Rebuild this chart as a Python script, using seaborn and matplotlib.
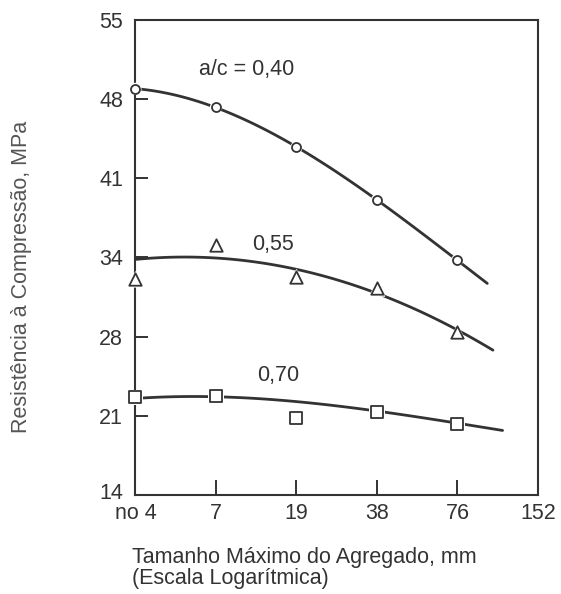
import numpy as np
import pandas as pd
import matplotlib
matplotlib.use("Agg")
import matplotlib.pyplot as plt
import matplotlib.transforms as mtransforms
import seaborn as sns

# ==========================================
# DATA
# ==========================================
size_labels = ["no 4", "7", "19", "38", "76", "152"]
size_pos = [0, 1, 2, 3, 4]

ytick_vals = [13.8, 20.7, 27.6, 34.5, 41.4, 48.3, 55.2]
ytick_labels = ["14", "21", "28", "34", "41", "48", "55"]

# measured points
res_040 = [49.2, 47.6, 44.1, 39.5, 34.3]
res_055 = [32.6, 35.6, 32.8, 31.8, 28.0]
res_070 = [22.3, 22.4, 20.5, 21.0, 20.0]

# points
curve_x_040 = [0, 1, 2, 3, 4, 4.37]
curve_y_040 = [49.2, 47.6, 44.1, 39.5, 34.3, 32.2]
curve_x_055 = [0, 0.63, 2, 3, 4, 4.44]
curve_y_055 = [34.3, 34.6, 33.4, 31.4, 28.2, 26.4]
curve_x_070 = [0, 1, 2, 3, 4, 4.56]
curve_y_070 = [22.2, 22.4, 21.9, 21.1, 20.1, 19.4]

labels = ["a/c = 0,40", "0,55", "0,70"]
label_xy = [(1.38, 50.85), (1.71, 35.65), (1.77, 24.25)]

dark = "#333333"
fs = 15.5

sns.set_style("white")
plt.rcParams["font.family"] = ["Liberation Sans", "DejaVu Sans"]

fig = plt.figure(figsize=(5.61, 5.94), dpi=100)
ax = fig.add_axes([0.2415, 0.1667, 0.7175, 0.7997])

series = [
    (res_040, curve_x_040, curve_y_040, "o", 42),
    (res_055, curve_x_055, curve_y_055, "^", 80),
    (res_070, curve_x_070, curve_y_070, "s", 72),
]

for vals, cx, cy, mk, ms in series:
    sns.regplot(x=np.array(cx), y=np.array(cy), order=3, ci=None,
                scatter=False, truncate=True, ax=ax,
                line_kws=dict(color=dark, lw=2.0, solid_capstyle="round", zorder=2))
    # white halo so the line breaks around the markers
    sns.scatterplot(x=size_pos, y=vals, marker=mk, s=ms * 1.8, color="white",
                    edgecolor="none", linewidth=0, zorder=3, clip_on=False, ax=ax)
    sns.scatterplot(x=size_pos, y=vals, marker=mk, s=ms, color="white",
                    edgecolor=dark, linewidth=1.3, zorder=4, clip_on=False, ax=ax)

for txt, (tx, ty) in zip(labels, label_xy):
    ax.text(tx, ty, txt, ha="center", va="center", fontsize=fs, color=dark)

ax.set_xlim(0, 5)
ax.set_ylim(13.8, 55.2)
ax.set_xticks(range(len(size_labels)))
ax.set_xticklabels(size_labels)
ax.set_yticks(ytick_vals)
ax.set_yticklabels(ytick_labels)
ax.tick_params(axis="x", bottom=True, direction="in", length=11, width=1.4,
               color=dark, pad=5.5, labelsize=fs, labelcolor=dark)
ax.tick_params(axis="y", left=True, direction="in", length=9.5, width=1.4,
               color=dark, pad=9, labelsize=fs, labelcolor=dark)
for sp in ax.spines.values():
    sp.set_color(dark)
    sp.set_linewidth(1.5)
ax.set_xlabel("")
ax.set_ylabel("")

# nudge the lowest y label up a little so it clears "no 4"
lab14 = ax.get_yticklabels()[0]
lab14.set_transform(lab14.get_transform() +
                    mtransforms.ScaledTranslation(0, 3 / 72, fig.dpi_scale_trans))

fig.text(0.0387, 0.5337, "Resistência à Compressão, MPa", rotation=90,
         ha="center", va="center", fontsize=fs, color="#555555")
fig.text(0.2348, 1 - 568 / 594,
         "Tamanho Máximo do Agregado, mm\n(Escala Logarítmica)",
         ha="left", va="center", fontsize=fs, color=dark, linespacing=0.98)

fig.savefig("out.png", dpi=100)
